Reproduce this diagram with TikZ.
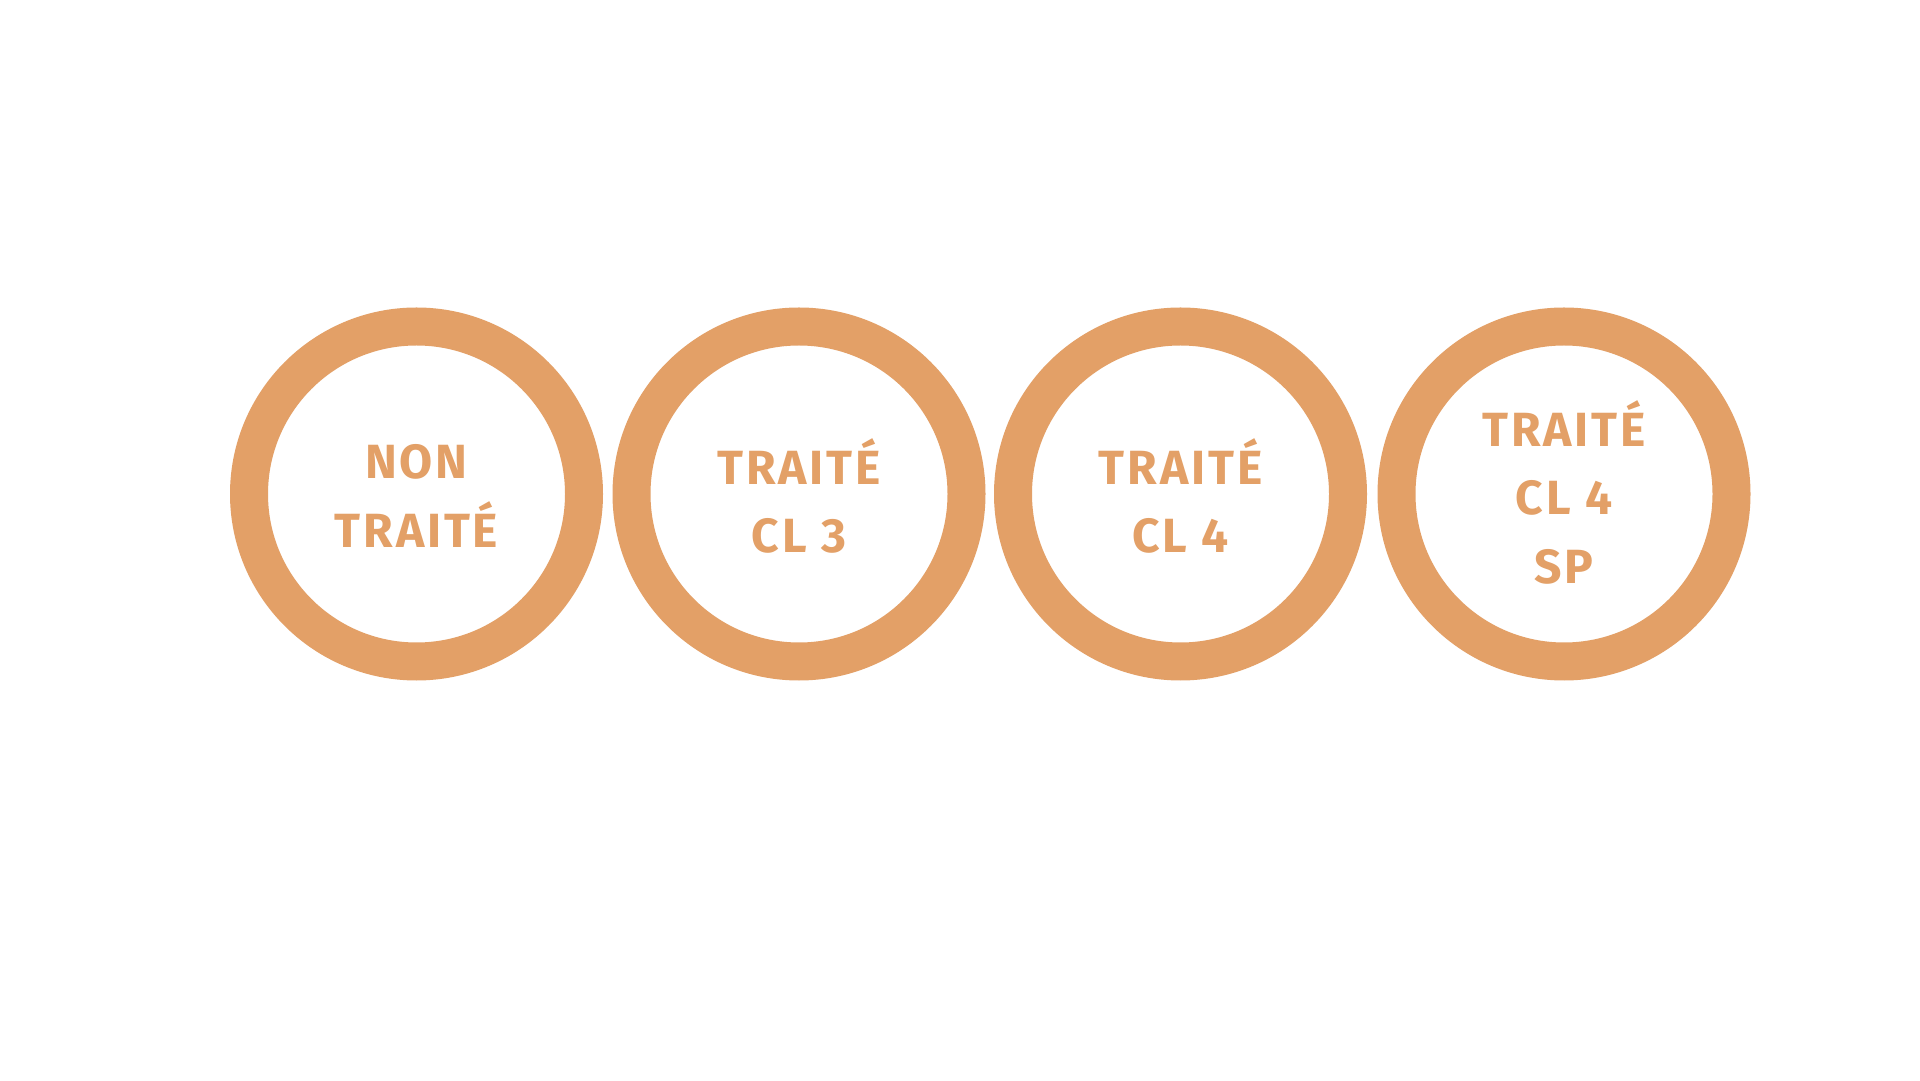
\documentclass[tikz,border=0pt]{standalone}
\usepackage{fontspec}
\setmainfont{Fira Sans}
\newfontfamily\ringfont[LetterSpace=6]{Fira Sans}
\definecolor{ringorange}{RGB}{227,160,103}
\tikzset{
  ring/.style={circle, draw=ringorange, line width=38pt, minimum size=335pt, inner sep=0pt},
  label text/.style={text=ringorange, align=center,
    font=\ringfont\fontsize{48pt}{68.5pt}\selectfont\bfseries}
}
\begin{document}
\begin{tikzpicture}[x=1pt,y=1pt]
\useasboundingbox[fill=white] (0,0) rectangle (1920,1080);
\node[ring] (c1) at (416.5,586) {};
\node[ring] (c2) at (799,586) {};
\node[ring] (c3) at (1180.5,586) {};
\node[ring] (c4) at (1564,586) {};
\node[label text] (t1) at ([yshift=-2pt]c1.center) {NON\\TRAITÉ};
\node[label text] (t2) at ([yshift=-2pt]c2.center) {TRAITÉ\\CL 3};
\node[label text] (t3) at ([yshift=-2pt]c3.center) {TRAITÉ\\CL 4};
\node[label text] (t4) at ([yshift=2pt]c4.center) {TRAITÉ\\CL 4\\SP};
\end{tikzpicture}
\end{document}
